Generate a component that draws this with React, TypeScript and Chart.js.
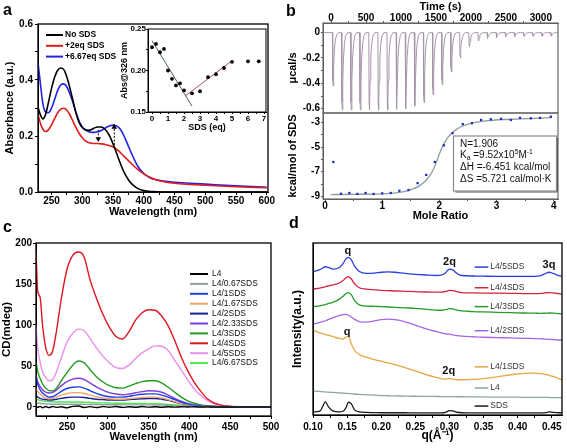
import React, { useEffect, useRef } from 'react';
import { Chart, registerables } from 'chart.js';

Chart.register(...registerables);

const FF = '"Liberation Sans", Arial, Helvetica, sans-serif';
Chart.defaults.font.family = FF;
Chart.defaults.color = '#000';

// ================= Panel a: UV-vis =================
const aWavelength = [228, 232, 236, 240, 245, 250, 255, 260, 265, 270, 275, 280, 285, 290, 295, 300, 305, 310, 315, 320, 325, 330, 335, 340, 345, 350, 355, 360, 365, 370, 375, 380, 390, 400, 410, 420, 435, 450, 475, 500, 550, 600];
const aNoSDS = [0.303, 0.275, 0.261, 0.275, 0.32, 0.37, 0.41, 0.435, 0.443, 0.437, 0.41, 0.37, 0.325, 0.28, 0.248, 0.23, 0.222, 0.22, 0.223, 0.229, 0.232, 0.232, 0.228, 0.216, 0.198, 0.172, 0.143, 0.113, 0.085, 0.062, 0.044, 0.03, 0.013, 0.005, 0.002, 0.001, 0, 0, 0, 0, 0, 0];
const a2eqSDS = [0.278, 0.245, 0.224, 0.216, 0.222, 0.24, 0.262, 0.283, 0.296, 0.299, 0.292, 0.275, 0.252, 0.229, 0.209, 0.194, 0.183, 0.177, 0.174, 0.173, 0.173, 0.172, 0.171, 0.168, 0.165, 0.161, 0.154, 0.145, 0.134, 0.123, 0.112, 0.101, 0.081, 0.065, 0.053, 0.044, 0.036, 0.031, 0.027, 0.024, 0.019, 0.015];
const a667eqSDS = [0.462, 0.385, 0.315, 0.287, 0.283, 0.3, 0.33, 0.363, 0.382, 0.386, 0.375, 0.35, 0.318, 0.283, 0.252, 0.232, 0.222, 0.216, 0.213, 0.213, 0.215, 0.219, 0.225, 0.232, 0.237, 0.239, 0.237, 0.229, 0.213, 0.19, 0.164, 0.138, 0.093, 0.066, 0.051, 0.044, 0.038, 0.035, 0.031, 0.028, 0.022, 0.017];
const aLabels = ['No SDS', '+2eq SDS', '+6.67eq SDS'];
const aColors = ['#000000', '#e01b1b', '#2323e6'];
const aArrowDownX = [326, 326];
const aArrowDownY = [0.222, 0.19];
const aArrowUpX = [352, 352];
const aArrowUpY = [0.168, 0.232];
const aXMajor = [250, 300, 350, 400, 450, 500, 550, 600];
const aXMinor = [275, 325, 375, 425, 475, 525, 575];
const aYMajor = [0, 0.2, 0.4, 0.6];
const aYMinor = [0.1, 0.3, 0.5];

// inset
const insetSDS = [0, 0.25, 0.5, 0.75, 1, 1.25, 1.5, 1.75, 2, 2.5, 3, 3.5, 4, 4.5, 5, 6, 6.67];
const insetAbs = [0.228, 0.232, 0.222, 0.226, 0.2, 0.19, 0.182, 0.1845, 0.176, 0.1725, 0.175, 0.192, 0.1955, 0.203, 0.2105, 0.211, 0.211];
const insetFit1X = [0, 2.5];
const insetFit1Y = [0.236, 0.157];
const insetFit2X = [2.06, 5.0];
const insetFit2Y = [0.169, 0.2118];
const insetXMajor = [0, 1, 2, 3, 4, 5, 6, 7];
const insetXMinor = [0.5, 1.5, 2.5, 3.5, 4.5, 5.5, 6.5];
const insetYMajor = [0.15, 0.2, 0.25];
const insetYMinor = [0.175, 0.225];

// ================= Panel b: ITC =================
const bInjTime = [20, 150, 280, 410, 540, 670, 800, 930, 1060, 1190, 1320, 1450, 1580, 1710, 1840, 1970, 2100, 2230, 2360, 2490, 2620, 2750, 2880, 3010, 3140];
const bInjDepth = [-0.42, -0.61, -0.61, -0.61, -0.61, -0.61, -0.61, -0.605, -0.6, -0.58, -0.55, -0.49, -0.41, -0.31, -0.2, -0.11, -0.065, -0.045, -0.038, -0.034, -0.03, -0.03, -0.028, -0.027, -0.026];
const bPeakProfileT = [0, 4, 10, 18, 28, 42, 60, 85];
const bPeakProfileF = [0, 0.9, 1, 0.62, 0.33, 0.14, 0.04, 0];
const bMoleRatio = [0.146, 0.28, 0.426, 0.566, 0.71, 0.85, 1.0, 1.15, 1.3, 1.46, 1.62, 1.77, 1.92, 2.08, 2.23, 2.41, 2.57, 2.73, 2.9, 3.08, 3.25, 3.41, 3.6, 3.76, 3.95];
const bHeat = [-6.21, -8.79, -8.73, -8.81, -8.73, -8.81, -8.76, -8.73, -8.55, -8.49, -7.93, -7.26, -6.21, -4.85, -3.86, -3.13, -3.05, -2.79, -2.73, -2.7, -2.79, -2.62, -2.65, -2.62, -2.52];
const bFitX = [0.1, 0.5, 1.0, 1.25, 1.4, 1.55, 1.65, 1.75, 1.85, 1.95, 2.0, 2.05, 2.1, 2.15, 2.22, 2.3, 2.4, 2.57, 2.86, 3.44, 3.96];
const bFitY = [-8.86, -8.84, -8.8, -8.72, -8.6, -8.38, -8.15, -7.78, -7.2, -6.2, -5.55, -5.0, -4.55, -4.2, -3.86, -3.55, -3.3, -3.05, -2.84, -2.7, -2.6];
const bTimeMajor = [0, 500, 1000, 1500, 2000, 2500, 3000];
const bTimeMinor = [250, 750, 1250, 1750, 2250, 2750];
const bRawYMajor = [-0.6, -0.4, -0.2, 0];
const bRawYMinor = [-0.5, -0.3, -0.1];
const bHeatYMajor = [-9, -7, -5, -3];
const bHeatYMinor = [-8, -6, -4];
const bRatioMajor = [0, 1, 2, 3, 4];
const bRatioMinor = [0.5, 1.5, 2.5, 3.5];

// ================= Panel c: CD =================
const cWavelength = [212, 214, 217, 220, 224, 228, 232, 237, 243, 250, 257, 264, 271, 278, 286, 294, 302, 310, 318, 326, 334, 342, 350, 358, 366, 374, 382, 390, 398, 406, 414, 422, 430, 440, 450, 465, 480, 500];
const cL4 = [1.5, -0.5, 0.8, -1, 0.5, -0.8, 0.6, -0.5, 0.3, -1, 0.8, 1.2, -0.6, 0.4, -0.7, 0.5, -0.3, 0.6, -0.5, 0.2, -0.4, 0.5, -0.2, 0.3, -0.3, 0.2, -0.2, 0.3, 0, 0.2, -0.1, 0.1, 0, 0, 0, 0, 0, 0];
const cL4_067 = [6, 5, 4.5, 4, 3.7, 3.5, 3.4, 3.3, 3.3, 3.3, 3.3, 3.3, 3.2, 3.1, 3, 2.9, 2.8, 2.7, 2.6, 2.6, 2.6, 2.6, 2.6, 2.5, 2.3, 2, 1.7, 1.4, 1.1, 0.8, 0.6, 0.4, 0.3, 0.2, 0.1, 0, 0, 0];
const cL4_1 = [36, 28, 21, 17, 14, 12, 12.5, 15, 19, 22.5, 24, 24.5, 23, 20, 16.5, 14, 12.5, 12, 12, 13, 14.5, 15.5, 16, 16, 14.5, 12, 9, 6, 3.8, 2.2, 1.3, 0.8, 0.5, 0.3, 0.2, 0.1, 0, 0];
const cL4_167 = [22, 19, 16, 13, 11, 10, 10.5, 12, 14.5, 16.5, 17.5, 17.5, 16.5, 14.5, 12.5, 11, 10, 9.5, 9.5, 10, 11, 11.5, 12, 12, 11, 9, 6.5, 4.5, 3, 1.8, 1, 0.6, 0.4, 0.3, 0.2, 0.1, 0, 0];
const cL4_2 = [14, 12, 10.5, 9.5, 9, 8.5, 8.5, 9.5, 10.5, 11.5, 12, 12, 11.5, 10.5, 9.5, 9, 8.5, 8.5, 8.5, 9, 9.5, 10, 10.3, 10.3, 9.5, 8, 6, 4.3, 2.8, 1.7, 1, 0.6, 0.4, 0.3, 0.2, 0.1, 0, 0];
const cL4_233 = [40, 31, 25, 21, 18, 17, 17.5, 20.5, 26, 31, 34, 35, 33.5, 29.5, 24.5, 20.5, 17.5, 15.8, 15, 15.8, 17.3, 18.8, 19.8, 19.5, 18, 14.5, 10.5, 7, 4.3, 2.6, 1.6, 1, 0.6, 0.4, 0.3, 0.2, 0, 0];
const cL4_3 = [55, 44, 35, 28, 23, 20, 19.5, 23, 32, 42, 51, 56, 54, 46, 37, 30.5, 26, 23.5, 23, 25.5, 28.5, 31, 32, 32, 29.5, 24, 18, 12, 7.5, 4.5, 2.5, 1.5, 1, 0.6, 0.4, 0.2, 0, 0];
const cL4_4 = [192, 142, 134, 100, 72, 63, 67, 92, 132, 168, 185, 189, 183, 156, 133, 113, 97, 86, 83, 92, 106, 115, 118.5, 118, 111, 99, 81, 61, 44, 30, 19, 10, 5, 2, 0.8, 0.3, 0, 0];
const cL4_5 = [100, 72, 55, 43, 36, 32, 33, 43, 60, 79, 90, 95, 93, 84, 72, 62, 54, 48, 47, 51, 59, 66, 71, 74.5, 74, 69, 57, 45, 33, 22, 14, 8, 4, 2, 1, 0.3, 0, 0];
const cL4_667 = [10, 9, 8, 7.5, 7, 6.5, 6.3, 6, 6, 6, 6, 6, 5.8, 5.5, 5.2, 5, 4.8, 4.6, 4.5, 4.4, 4.3, 4.2, 4.1, 4, 3.7, 3.2, 2.6, 2, 1.5, 1.1, 0.8, 0.5, 0.3, 0.2, 0.1, 0, 0, 0];
const cLabels = ['L4', 'L4/0.67SDS', 'L4/1SDS', 'L4/1.67SDS', 'L4/2SDS', 'L4/2.33SDS', 'L4/3SDS', 'L4/4SDS', 'L4/5SDS', 'L4/6.67SDS'];
const cSeries = [cL4, cL4_067, cL4_1, cL4_167, cL4_2, cL4_233, cL4_3, cL4_4, cL4_5, cL4_667];
const cColors = ['#000000', '#8fa3a3', '#1d3fe8', '#f4a466', '#1a2296', '#7d3fe0', '#1e9a1e', '#e0141e', '#e98fe9', '#4be84b'];
const cXMajor = [250, 300, 350, 400, 450, 500];
const cXMinor = [225, 275, 325, 375, 425, 475];
const cYMajor = [0, 50, 100, 150, 200];
const cYMinor = [25, 75, 125, 175];

// ================= Panel d: SAXS =================
const dQ = [0.1, 0.11, 0.115, 0.118, 0.122, 0.13, 0.138, 0.144, 0.148, 0.152, 0.156, 0.161, 0.168, 0.178, 0.19, 0.2, 0.21, 0.22, 0.235, 0.25, 0.265, 0.28, 0.288, 0.294, 0.3, 0.305, 0.311, 0.318, 0.335, 0.35, 0.37, 0.39, 0.41, 0.425, 0.434, 0.441, 0.446, 0.452, 0.46, 0.47];
const dL4_5 = [83.3, 84.5, 85.6, 86.2, 85.8, 84.8, 85.6, 88, 90.6, 91.7, 90.4, 86.5, 83.4, 82.3, 82.5, 83, 83.2, 83, 82.3, 81.8, 81.4, 81.1, 81.3, 82.6, 84.8, 84.4, 82.3, 81.1, 80.8, 80.7, 80.6, 80.6, 80.6, 80.6, 81, 82.3, 83, 82.3, 81.1, 80.6];
const dL4_4 = [73.2, 73.8, 74.2, 74.5, 75, 75.7, 76.6, 78.2, 79.6, 80.4, 79.2, 76.2, 74, 73.2, 72.8, 72.5, 72.3, 72.1, 71.9, 71.7, 71.5, 71.4, 71.4, 71.8, 72.4, 72.3, 71.7, 71.2, 71, 70.9, 70.8, 70.7, 70.6, 70.6, 70.7, 71, 71.2, 71, 70.6, 70.2];
const dL4_3 = [62.9, 63.5, 63.9, 64.2, 64.7, 65.6, 67.2, 69, 70.5, 71.2, 70, 66.5, 64, 63.3, 63.2, 63, 62.8, 62.6, 62.3, 62, 61.5, 61, 60.9, 61.2, 61.8, 61.7, 61, 60.5, 60.1, 59.9, 59.7, 59.5, 59.3, 59.2, 59.1, 59.2, 59.3, 59.2, 58.9, 58.6];
const dL4_2 = [52.8, 53.8, 54.4, 54.8, 55.4, 56.6, 57.8, 58.4, 58.5, 58, 57, 55.6, 54.3, 54, 54.7, 55.4, 55.7, 55.4, 54.2, 52.3, 50.2, 48.6, 47.8, 47.2, 47, 46.6, 46.2, 45.9, 45.5, 45.2, 45, 44.8, 44.6, 44.4, 44.3, 44.1, 44, 43.9, 43.6, 43.3];
const dL4_1 = [49.3, 47.8, 47.2, 46.8, 46.4, 45.5, 44.6, 44.2, 45.2, 45.8, 41.5, 37.5, 35.2, 33.6, 32.2, 31.3, 30.3, 29.3, 27.6, 25.6, 23.6, 21.9, 21.2, 20.8, 21.2, 20.9, 20.5, 20.5, 20.7, 21.2, 22.2, 23.4, 24.2, 24.4, 24.1, 23.6, 23.1, 22.4, 21.2, 19.8];
const dL4 = [14, 13.7, 13.5, 13.4, 13.3, 13.1, 12.9, 12.7, 12.6, 12.5, 12.4, 12.2, 12, 11.8, 11.5, 11.3, 11.2, 11.1, 11, 10.9, 10.8, 10.8, 10.7, 10.7, 10.7, 10.7, 10.6, 10.6, 10.5, 10.5, 10.4, 10.4, 10.3, 10.3, 10.2, 10.2, 10.2, 10.1, 10.1, 10];
const dSDS = [1.8, 2.3, 5.5, 7.8, 5.2, 2.2, 1.8, 2.2, 4, 7.4, 6.6, 3, 1.8, 1.5, 1.4, 1.3, 1.3, 1.3, 1.3, 1.2, 1.2, 1.2, 1.2, 1.5, 2.5, 2.4, 1.6, 1.3, 1.2, 1.2, 1.2, 1.2, 1.2, 1.2, 1.2, 1.4, 1.8, 1.5, 1.3, 1.3];
const dLabels = ['L4/5SDS', 'L4/4SDS', 'L4/3SDS', 'L4/2SDS', 'L4/1SDS', 'L4', 'SDS'];
const dSeries = [dL4_5, dL4_4, dL4_3, dL4_2, dL4_1, dL4, dSDS];
const dColors = ['#2a3ee0', '#d5233f', '#259a25', '#a468e6', '#e8a445', '#8ea5a5', '#1a1a1a'];
const dLegendLevel = [86, 74, 63, 49, 28, 15.7, 5.2];
const dPeakText = ['q', '2q', '3q', 'q', '2q'];
const dPeakQ = [0.151, 0.3, 0.446, 0.15, 0.299];
const dPeakLevel = [95.3, 88.8, 87.2, 48.3, 25.5];
const dXMajor = [0.1, 0.15, 0.2, 0.25, 0.3, 0.35, 0.4, 0.45];
const dXMinor = [0.125, 0.175, 0.225, 0.275, 0.325, 0.375, 0.425];

// ================= helpers =================
type Pt = { x: number; y: number };
const zip = (xs: number[], ys: number[]): Pt[] => xs.map((x, i) => ({ x, y: ys[i] }));

function lineDs(label: string, xs: number[], ys: number[], color: string, width = 1.5, extra: any = {}) {
  return {
    label,
    data: zip(xs, ys),
    borderColor: color,
    backgroundColor: color,
    borderWidth: width,
    pointRadius: 0,
    fill: false,
    cubicInterpolationMode: 'monotone',
    ...extra,
  };
}

function axis(o: any) {
  const vals = [...o.major, ...(o.minor || [])].sort((a: number, b: number) => a - b);
  const isMajor = (v: number) => o.major.some((m: number) => Math.abs(m - v) < 1e-9);
  const horiz = o.position !== 'left';
  const col = o.color || '#000';
  return {
    type: 'linear',
    position: o.position,
    min: o.min,
    max: o.max,
    afterBuildTicks: (s: any) => {
      s.ticks = vals.map((v: number) => ({ value: v }));
    },
    afterFit: (s: any) => {
      if (horiz) s.height = o.size;
      else s.width = o.size;
    },
    ticks: {
      display: o.noTicks ? false : true,
      autoSkip: false,
      maxRotation: 0,
      minRotation: 0,
      padding: o.tickPad ?? 1,
      color: '#000',
      font: { family: FF, size: o.tickSize ?? 10, weight: 'bold' },
      callback: (v: number) => (isMajor(v) ? (o.fmt ? o.fmt(v) : String(v)) : ''),
    },
    grid: {
      display: !o.noTicks,
      drawOnChartArea: false,
      drawTicks: !o.noTicks,
      tickLength: o.tickLen ?? 3,
      color: col,
      lineWidth: 1,
    },
    border: { display: true, color: col, width: 1 },
    title: {
      display: !!o.title,
      text: o.title || '',
      color: '#000',
      font: { family: FF, size: o.titleSize ?? 11, weight: 'bold' },
      padding: o.position === 'bottom' ? { top: 0, bottom: o.titlePad ?? 4 } : { top: o.titlePad ?? 4, bottom: 0 },
    },
  };
}

function baseOptions(padding: any, scales: any) {
  return {
    animation: false,
    responsive: false,
    maintainAspectRatio: false,
    events: [],
    layout: { padding },
    plugins: { legend: { display: false }, tooltip: { enabled: false } },
    scales,
  };
}

function framePlugin(id: string, color: string, width: number) {
  return {
    id,
    afterDatasetsDraw(chart: any) {
      const { ctx, chartArea: a } = chart;
      ctx.save();
      ctx.strokeStyle = color;
      ctx.lineWidth = width;
      ctx.strokeRect(a.left, a.top, a.right - a.left, a.bottom - a.top);
      ctx.restore();
    },
  };
}

function ChartCanvas({ left, top, width, height, make }: { left: number; top: number; width: number; height: number; make: () => any }) {
  const ref = useRef<HTMLCanvasElement | null>(null);
  useEffect(() => {
    const chart = new Chart(ref.current as HTMLCanvasElement, make());
    return () => chart.destroy();
  }, []);
  return (
    <canvas
      ref={ref}
      width={width}
      height={height}
      style={{ position: 'absolute', left, top, width, height, display: 'block' }}
    />
  );
}

// ================= chart configs =================
const aSeries = [aNoSDS, a2eqSDS, a667eqSDS];

function makeA() {
  const legend = {
    id: 'aLegend',
    afterDatasetsDraw(chart: any) {
      const { ctx } = chart;
      ctx.save();
      ctx.font = `bold 8.5px ${FF}`;
      ctx.textBaseline = 'middle';
      aLabels.forEach((lab, i) => {
        const y = 35 + i * 10.8;
        ctx.strokeStyle = aColors[i];
        ctx.lineWidth = 2;
        ctx.beginPath();
        ctx.moveTo(46, y);
        ctx.lineTo(63, y);
        ctx.stroke();
        ctx.fillStyle = '#000';
        ctx.fillText(lab, 65, y);
      });
      ctx.restore();
    },
  };
  const arrow = (xs: number[], ys: number[], rot: number) => ({
    label: 'arrow',
    data: zip(xs, ys),
    borderColor: '#000',
    backgroundColor: '#000',
    borderWidth: 1,
    borderDash: [2, 1.5],
    pointRadius: [0, 3.2],
    pointStyle: 'triangle',
    pointRotation: [0, rot],
    pointBorderWidth: 0,
    fill: false,
  });
  return {
    type: 'line',
    data: {
      datasets: [
        arrow(aArrowDownX, aArrowDownY, 180),
        arrow(aArrowUpX, aArrowUpY, 0),
        ...aLabels.map((l, i) => lineDs(l, aWavelength, aSeries[i], aColors[i], 1.6)),
      ],
    },
    options: baseOptions(
      { left: 0, top: 24, right: 12, bottom: 0 },
      {
        x: axis({ min: 228, max: 602, major: aXMajor, minor: aXMinor, position: 'bottom', size: 32, title: 'Wavelength (nm)', titlePad: 5.4, tickLen: 3, tickPad: 0 }),
        y: axis({ min: 0, max: 0.6, major: aYMajor, minor: aYMinor, fmt: (v: number) => v.toFixed(1), position: 'left', size: 38, title: 'Absorbance (a.u.)', titlePad: 3.4, tickLen: 3, tickPad: 2 }),
      }
    ),
    plugins: [framePlugin('aFrame', '#000', 1.3), legend],
  };
}

function makeInset() {
  return {
    type: 'line',
    data: {
      datasets: [
        lineDs('Abs@326', insetSDS, insetAbs, '#000', 0, { showLine: false, pointRadius: 1.9, pointBackgroundColor: '#000', pointBorderWidth: 0 }),
        lineDs('fit1', insetFit1X, insetFit1Y, '#4a5a5a', 1),
        lineDs('fit2', insetFit2X, insetFit2Y, '#b04878', 1),
      ],
    },
    options: baseOptions(
      { left: 0, top: 7, right: 4, bottom: 0 },
      {
        x: axis({ min: -0.25, max: 7.125, major: insetXMajor, minor: insetXMinor, position: 'bottom', size: 26, title: 'SDS (eq)', titleSize: 9, titlePad: 5.3, tickLen: 2, tickPad: 0, tickSize: 8 }),
        y: axis({ min: 0.15, max: 0.25, major: insetYMajor, minor: insetYMinor, fmt: (v: number) => v.toFixed(2), position: 'left', size: 38, title: 'Abs@326 nm', titleSize: 9, titlePad: 9.6, tickLen: 2, tickPad: 0, tickSize: 8 }),
      }
    ),
    plugins: [framePlugin('insetFrame', '#000', 1)],
  };
}

function makeBTop() {
  const raw: Pt[] = [{ x: -115, y: 0 }];
  bInjTime.forEach((t0, i) => {
    bPeakProfileT.forEach((dt, k) => raw.push({ x: t0 + dt, y: bInjDepth[i] * bPeakProfileF[k] }));
  });
  raw.push({ x: 3245, y: 0 });
  return {
    type: 'line',
    data: {
      datasets: [
        { label: 'raw', data: raw, borderColor: '#a596a8', borderWidth: 1, pointRadius: 0, tension: 0, fill: false },
      ],
    },
    options: baseOptions(
      { left: 0, top: 0, right: 9, bottom: 9 },
      {
        x: axis({ min: -115, max: 3245, major: bTimeMajor, minor: bTimeMinor, position: 'top', size: 23, title: 'Time (s)', titlePad: 0.4, tickLen: 2, tickPad: -3, color: '#555' }),
        y: axis({ min: -0.634, max: 0.076, major: bRawYMajor, minor: bRawYMinor, fmt: (v: number) => (Math.abs(v) < 1e-9 ? '0' : v.toFixed(1)), position: 'left', size: 40, title: 'μcal/s', titlePad: 3.4, tickLen: 2, tickPad: 1, color: '#555' }),
      }
    ),
    plugins: [framePlugin('bTopFrame', '#6a6a6a', 1.2)],
  };
}

function drawRich(ctx: any, segs: any[], x: number, y: number, size: number) {
  let cx = x;
  segs.forEach((s) => {
    const small = s.sub || s.sup;
    ctx.font = `${small ? size * 0.68 : size}px ${FF}`;
    const dy = s.sub ? size * 0.3 : s.sup ? -size * 0.38 : 0;
    ctx.fillText(s.t, cx, y + dy);
    cx += ctx.measureText(s.t).width;
  });
}

const bStatLines = [
  [{ t: 'N=1.906' }],
  [{ t: 'K' }, { t: 'a', sub: true }, { t: ' =9.52x10' }, { t: '5', sup: true }, { t: 'M' }, { t: '-1', sup: true }],
  [{ t: 'ΔH =-6.451 kcal/mol' }],
  [{ t: 'ΔS =5.721 cal/mol·K' }],
];

function makeBBottom() {
  const box = {
    id: 'bBox',
    afterDatasetsDraw(chart: any) {
      const { ctx } = chart;
      const bx = 170.5, by = 33, bw = 103, bh = 55;
      ctx.save();
      ctx.fillStyle = '#fff';
      ctx.fillRect(bx, by, bw, bh);
      ctx.strokeStyle = '#555';
      ctx.lineWidth = 1;
      ctx.beginPath();
      ctx.moveTo(bx + bw + 1, by + 2);
      ctx.lineTo(bx + bw + 1, by + bh + 1);
      ctx.lineTo(bx + 2, by + bh + 1);
      ctx.stroke();
      ctx.strokeStyle = '#8a8a8a';
      ctx.lineWidth = 1.2;
      ctx.strokeRect(bx, by, bw, bh);
      ctx.fillStyle = '#111';
      ctx.textBaseline = 'middle';
      const ys = [41.5, 52.5, 64.5, 76];
      bStatLines.forEach((segs, i) => drawRich(ctx, segs, 177, ys[i], 10));
      ctx.restore();
    },
  };
  return {
    type: 'line',
    data: {
      datasets: [
        lineDs('heat', bMoleRatio, bHeat, '#1a2ac8', 0, { showLine: false, pointRadius: 1.6, pointStyle: 'rect', pointBackgroundColor: '#1a2ac8', pointBorderWidth: 0 }),
        lineDs('fit', bFitX, bFitY, '#8c9c9c', 1.3),
      ],
    },
    options: baseOptions(
      { left: 0, top: 10, right: 9, bottom: 0 },
      {
        x: axis({ min: -0.035, max: 4.075, major: bRatioMajor, minor: bRatioMinor, position: 'bottom', size: 25, title: 'Mole Ratio', titlePad: 1.4, tickLen: 2, tickPad: -1, color: '#555' }),
        y: axis({ min: -9.22, max: -2.22, major: bHeatYMajor, minor: bHeatYMinor, position: 'left', size: 40, title: 'kcal/mol of SDS', titlePad: 3.4, tickLen: 2, tickPad: 1, color: '#555' }),
      }
    ),
    plugins: [framePlugin('bBotFrame', '#6a6a6a', 1.2), box],
  };
}

function makeC() {
  const legend = {
    id: 'cLegend',
    afterDatasetsDraw(chart: any) {
      const { ctx } = chart;
      ctx.save();
      ctx.font = `8.5px ${FF}`;
      ctx.textBaseline = 'middle';
      cLabels.forEach((lab, i) => {
        const y = 50 + i * 9.9;
        ctx.strokeStyle = cColors[i];
        ctx.lineWidth = 2;
        ctx.beginPath();
        ctx.moveTo(190, y);
        ctx.lineTo(208, y);
        ctx.stroke();
        ctx.fillStyle = '#111';
        ctx.fillText(lab, 212, y);
      });
      ctx.restore();
    },
  };
  return {
    type: 'line',
    data: { datasets: cLabels.map((l, i) => lineDs(l, cWavelength, cSeries[i], cColors[i], 1.4)) },
    options: baseOptions(
      { left: 0, top: 19, right: 12, bottom: 0 },
      {
        x: axis({ min: 212, max: 500, major: cXMajor, minor: cXMinor, position: 'bottom', size: 32, title: 'Wavelength (nm)', titlePad: 4.4, tickLen: 3, tickPad: 2 }),
        y: axis({ min: -11, max: 200, major: cYMajor, minor: cYMinor, position: 'left', size: 36, title: 'CD(mdeg)', titleSize: 11.5, titlePad: 0, tickLen: 3, tickPad: 1 }),
      }
    ),
    plugins: [framePlugin('cFrame', '#000', 1.3), legend],
  };
}

function makeD() {
  const anno = {
    id: 'dAnno',
    afterDatasetsDraw(chart: any) {
      const { ctx, scales } = chart;
      const x = scales.x, y = scales.y;
      ctx.save();
      ctx.font = `8.5px ${FF}`;
      ctx.textBaseline = 'middle';
      ctx.textAlign = 'left';
      dLabels.forEach((lab, i) => {
        const py = y.getPixelForValue(dLegendLevel[i]);
        ctx.strokeStyle = dColors[i];
        ctx.lineWidth = 1.5;
        ctx.beginPath();
        ctx.moveTo(x.getPixelForValue(0.337), py);
        ctx.lineTo(x.getPixelForValue(0.357), py);
        ctx.stroke();
        ctx.fillStyle = '#333';
        ctx.fillText(lab, x.getPixelForValue(0.36), py);
      });
      ctx.font = `bold 11px ${FF}`;
      ctx.textAlign = 'center';
      ctx.fillStyle = '#111';
      dPeakText.forEach((t, i) => ctx.fillText(t, x.getPixelForValue(dPeakQ[i]), y.getPixelForValue(dPeakLevel[i])));
      ctx.restore();
    },
  };
  return {
    type: 'line',
    data: { datasets: dLabels.map((l, i) => lineDs(l, dQ, dSeries[i], dColors[i], 1.3)) },
    options: baseOptions(
      { left: 0, top: 19, right: 5, bottom: 0 },
      {
        x: axis({ min: 0.1, max: 0.465, major: dXMajor, minor: dXMinor, fmt: (v: number) => v.toFixed(2), position: 'bottom', size: 33, title: 'q(Å⁻¹)', titleSize: 12, titlePad: 4.8, tickLen: 3, tickPad: 3 }),
        y: axis({ min: 0, max: 100, major: [], minor: [], position: 'left', size: 30, title: 'Intensity(a.u.)', titleSize: 12, titlePad: 7.8, noTicks: true }),
      }
    ),
    plugins: [framePlugin('dFrame', '#000', 1.3), anno],
  };
}

const letterStyle = (left: number, top: number): React.CSSProperties => ({
  position: 'absolute',
  left,
  top,
  font: `bold 16px ${FF}`,
  lineHeight: '16px',
  color: '#000',
});

export default function App() {
  return (
    <div style={{ position: 'fixed', left: 0, top: 0, width: 567, height: 448, background: '#fff', overflow: 'hidden' }}>
      <ChartCanvas left={0} top={0} width={280} height={224} make={makeA} />
      <ChartCanvas left={110} top={22} width={160} height={116} make={makeInset} />
      <ChartCanvas left={283} top={0} width={284} height={122} make={makeBTop} />
      <ChartCanvas left={283} top={103} width={284} height={121} make={makeBBottom} />
      <ChartCanvas left={0} top={224} width={283} height={224} make={makeC} />
      <ChartCanvas left={283} top={224} width={284} height={224} make={makeD} />
      <div style={letterStyle(3, 2)}>a</div>
      <div style={letterStyle(286, 2.5)}>b</div>
      <div style={letterStyle(3, 219)}>c</div>
      <div style={letterStyle(289, 215)}>d</div>
    </div>
  );
}
